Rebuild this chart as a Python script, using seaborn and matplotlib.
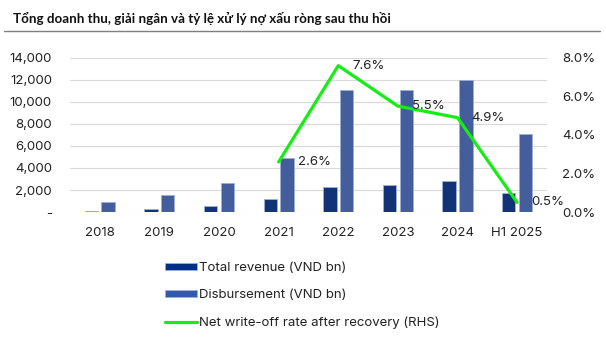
import matplotlib
matplotlib.use("Agg")
import matplotlib.pyplot as plt
from matplotlib.patches import Patch
from matplotlib.lines import Line2D
from matplotlib.ticker import FuncFormatter, MultipleLocator
import seaborn as sns
import pandas as pd

# Data
years = ["2018", "2019", "2020", "2021", "2022", "2023", "2024", "H1 2025"]
total_revenue = [100, 240, 570, 1200, 2230, 2500, 2860, 1740]
disbursement = [880, 1540, 2600, 4870, 11100, 11100, 12000, 7100]
rate_years = ["2021", "2022", "2023", "2024", "H1 2025"]
writeoff_rate = [2.6, 7.6, 5.5, 4.9, 0.5]

rev_label = "Total revenue (VND bn)"
disb_label = "Disbursement (VND bn)"
rate_label = "Net write-off rate after recovery (RHS)"

sns.set_theme(style="white")
plt.rcParams["font.family"] = ["Inter", "DejaVu Sans"]

c_rev = "#012F88"
c_disb = "#3459AA"
c_line = "#14EE14"
c_text = "#222222"
c_grid = "#D9D9D9"

df = pd.DataFrame({
    "year": years * 2,
    "value": total_revenue + disbursement,
    "series": [rev_label] * len(years) + [disb_label] * len(years),
})

fig = plt.figure(figsize=(6.06, 3.47), dpi=100)
ax = fig.add_axes([0.1155, 0.389, 0.787, 0.444])

sns.barplot(data=df, x="year", y="value", hue="series", order=years,
            hue_order=[rev_label, disb_label],
            palette={rev_label: c_rev, disb_label: c_disb},
            width=0.56, gap=0.2, edgecolor="#9DB0DA", linewidth=0.6,
            legend=False, ax=ax)

ax.set_xlim(-0.5, len(years) - 0.5)
ax.set_ylim(0, 14000)
ax.yaxis.set_major_locator(MultipleLocator(2000))
ax.yaxis.set_major_formatter(FuncFormatter(lambda v, p: "-" if v == 0 else f"{v:,.0f}"))
ax.grid(axis="y", color=c_grid, linewidth=0.8)
ax.set_axisbelow(True)
ax.set_xlabel("")
ax.set_ylabel("")
for s in ax.spines.values():
    s.set_visible(False)
ax.tick_params(axis="y", length=0, pad=13, labelsize=9.5, labelcolor=c_text)
ax.tick_params(axis="x", length=0, pad=11, labelsize=9.5, labelcolor=c_text)

ax2 = ax.twinx()
rate_df = pd.DataFrame({"pos": [years.index(y) for y in rate_years],
                        "rate": writeoff_rate})
sns.lineplot(data=rate_df, x="pos", y="rate", color=c_line, linewidth=2.3, ax=ax2)
ax2.set_ylim(0, 8)
ax2.set_xlim(-0.5, len(years) - 0.5)
ax2.yaxis.set_major_locator(MultipleLocator(2))
ax2.yaxis.set_major_formatter(FuncFormatter(lambda v, p: f"{v:.1f}%"))
ax2.set_xlabel("")
ax2.set_ylabel("")
for s in ax2.spines.values():
    s.set_visible(False)
ax2.tick_params(axis="y", length=0, pad=11, labelsize=9.5, labelcolor=c_text)

for x, v in zip(rate_df["pos"], rate_df["rate"]):
    dx = 14 if x == rate_df["pos"].iloc[0] else 10
    ax2.annotate(f"{v:.1f}%", (x, v), xytext=(dx, 0), textcoords="offset points",
                 ha="left", va="center", fontsize=9.5, color=c_text)

# Title and rule
fig.text(0.021, 0.948, "Tổng doanh thu, giải ngân và tỷ lệ xử lý nợ xấu ròng sau thu hồi",
         fontsize=9.6, fontweight="bold", family=["Lato", "DejaVu Sans"],
         color="#111111", ha="left", va="center")
fig.add_artist(Line2D([0.007, 0.99], [0.911, 0.911], transform=fig.transFigure,
                      color="#7F7F7F", linewidth=1.0))

handles = [Patch(facecolor=c_rev, edgecolor="#9DB0DA", linewidth=0.6),
           Patch(facecolor=c_disb, edgecolor="#9DB0DA", linewidth=0.6),
           Line2D([], [], color=c_line, linewidth=2.3)]
fig.legend(handles, [rev_label, disb_label, rate_label], loc="upper left",
           bbox_to_anchor=(0.262, 0.264), frameon=False, fontsize=9.5,
           handlelength=2.4, handleheight=0.5, handletextpad=0.15,
           labelspacing=1.15, borderpad=0, labelcolor=c_text)

fig.savefig("out.png", dpi=100)
